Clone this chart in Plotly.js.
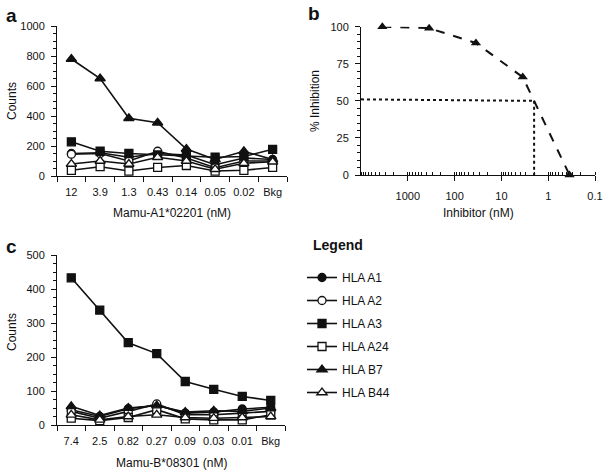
<!DOCTYPE html>
<html>
<head>
<meta charset="utf-8">
<script src="https://cdn.plot.ly/plotly-3.0.1.min.js"></script>
<style>
  html, body { margin: 0; padding: 0; background: #fff; }
  #chart { width: 605px; height: 472px; }
</style>
</head>
<body>
<div id="chart"></div>
<script>
// panel a / c categories (peptide concentration, nM)
const catsA = ["12", "3.9", "1.3", "0.43", "0.14", "0.05", "0.02", "Bkg"];
const catsC = ["7.4", "2.5", "0.82", "0.27", "0.09", "0.03", "0.01", "Bkg"];

const seriesNames = ["HLA A1", "HLA A2", "HLA A3", "HLA A24", "HLA B7", "HLA B44"];

// counts, panel a (Mamu-A1*02201)
const countsA_A1  = [150, 155, 125, 150, 140, 75, 120, 110];
const countsA_A2  = [145, 150, 100, 165, 120, 55, 100, 100];
const countsA_A3  = [228, 165, 150, 140, 130, 125, 130, 178];
const countsA_A24 = [38, 62, 33, 57, 70, 33, 38, 57];
const countsA_B7  = [780, 650, 385, 355, 180, 110, 165, 110];
const countsA_B44 = [80, 100, 80, 125, 100, 45, 85, 95];

// counts, panel c (Mamu-B*08301)
const countsC_A1  = [45, 25, 48, 58, 35, 38, 47, 52];
const countsC_A2  = [40, 20, 40, 62, 30, 30, 35, 40];
const countsC_A3  = [433, 338, 242, 210, 128, 105, 84, 72];
const countsC_A24 = [20, 13, 22, 45, 18, 15, 15, 30];
const countsC_B7  = [55, 28, 50, 57, 38, 42, 40, 50];
const countsC_B44 = [30, 15, 25, 30, 22, 20, 22, 25];

// panel b: inhibition curve
const inhibitorConc = [3500, 350, 35, 3.5, 0.35];
const inhibitionPct = [100, 99, 89, 66, 0];
const ic50 = 2.0;
const halfLineX = [10000, ic50];
const halfLineY = [51, 50];
const ic50LineY = [50, 0];

(function () {
  const W = 605, H = 472;
  const px = (x) => x / W;
  const py = (y) => 1 - y / H;
  const FONT = "Liberation Sans, Arial, Helvetica, sans-serif";
  const INK = "#111";

  const markers = {
    "HLA A1":  { symbol: "circle", color: INK, size: 8 },
    "HLA A2":  { symbol: "circle", color: "#fff", size: 8 },
    "HLA A3":  { symbol: "square", color: INK, size: 8 },
    "HLA A24": { symbol: "square", color: "#fff", size: 8 },
    "HLA B7":  { symbol: "triangle-up", color: INK, size: 9 },
    "HLA B44": { symbol: "triangle-up", color: "#fff", size: 9 }
  };

  const dataA = [countsA_A1, countsA_A2, countsA_A3, countsA_A24, countsA_B7, countsA_B44];
  const dataC = [countsC_A1, countsC_A2, countsC_A3, countsC_A24, countsC_B7, countsC_B44];

  const traces = [];
  function addPanel(cats, data, xa, ya, showLegend) {
    seriesNames.forEach((name, i) => {
      const m = markers[name];
      traces.push({
        x: cats, y: data[i], xaxis: xa, yaxis: ya,
        type: "scatter", mode: "lines+markers", name: name,
        legendgroup: name, showlegend: showLegend,
        line: { color: INK, width: 1.6 },
        marker: { symbol: m.symbol, size: m.size, color: m.color, line: { color: INK, width: 1.3 } },
        cliponaxis: false
      });
    });
  }
  addPanel(catsA, dataA, "x", "y", false);
  addPanel(catsC, dataC, "x3", "y3", true);

  traces.push({
    x: halfLineX, y: halfLineY, xaxis: "x2", yaxis: "y2", type: "scatter", mode: "lines",
    showlegend: false, line: { color: INK, width: 2, dash: "dot" }, hoverinfo: "skip"
  });
  traces.push({
    x: [ic50, ic50], y: ic50LineY, xaxis: "x2", yaxis: "y2", type: "scatter", mode: "lines",
    showlegend: false, line: { color: INK, width: 2, dash: "dot" }, hoverinfo: "skip"
  });
  traces.push({
    x: inhibitorConc, y: inhibitionPct, xaxis: "x2", yaxis: "y2", type: "scatter",
    mode: "lines+markers", showlegend: false, cliponaxis: false,
    line: { color: INK, width: 2, dash: "dash" },
    marker: { symbol: "triangle-up", size: 9, color: INK }
  });

  const tickFont = { family: FONT, size: 11, color: INK };
  const baseAxis = {
    showgrid: false, zeroline: false, showline: true, linecolor: INK, linewidth: 1,
    ticks: "outside", ticklen: 5, tickcolor: INK, tickfont: tickFont, fixedrange: true,
    ticklabeloverflow: "allow"
  };
  const yAxis = (extra) => Object.assign({}, baseAxis, { ticklabelstandoff: 4 }, extra);

  const catAxis = (domain, anchor) => Object.assign({}, baseAxis, {
    domain: domain, anchor: anchor, type: "category", tickson: "boundaries",
    range: [-0.5, 7.5], tickangle: 0, ticklabelstandoff: 6
  });

  const layout = {
    width: W, height: H,
    margin: { l: 0, r: 0, t: 0, b: 0 },
    paper_bgcolor: "#fff", plot_bgcolor: "#fff",
    font: { family: FONT, color: INK },
    xaxis: catAxis([px(57), px(287)], "y"),
    yaxis: yAxis({
      domain: [py(176), py(26)], anchor: "x", range: [0, 1000], dtick: 200,
      minor: { dtick: 50, ticks: "outside", ticklen: 3, tickcolor: INK }
    }),
    xaxis2: Object.assign({}, baseAxis, {
      domain: [px(361), px(595)], anchor: "y2", type: "log", range: [4, -1],
      tickvals: [1000, 100, 10, 1, 0.1], ticktext: ["1000", "100", "10", "1", "0.1"],
      tickangle: 0, ticklabelstandoff: 6,
      minor: { dtick: "D1", ticks: "inside", ticklen: 3, tickcolor: INK }
    }),
    yaxis2: yAxis({
      domain: [py(175), py(26.7)], anchor: "x2", range: [0, 100], dtick: 25,
      minor: { dtick: 5, ticks: "outside", ticklen: 3, tickcolor: INK }
    }),
    xaxis3: catAxis([px(57), px(285)], "y3"),
    yaxis3: yAxis({
      domain: [py(425), py(255)], anchor: "x3", range: [0, 500], dtick: 100,
      minor: { dtick: 25, ticks: "outside", ticklen: 3, tickcolor: INK }
    }),
    showlegend: true,
    legend: {
      x: px(302), y: py(263), xanchor: "left", yanchor: "top",
      font: { family: FONT, size: 12, color: INK },
      tracegroupgap: 4, itemclick: false, itemdoubleclick: false,
      bgcolor: "rgba(0,0,0,0)"
    },
    annotations: [
      { text: "<b>a</b>", x: px(4), y: py(3), xanchor: "left", yanchor: "top", font: { size: 19 } },
      { text: "<b>b</b>", x: px(306), y: py(1), xanchor: "left", yanchor: "top", font: { size: 19 } },
      { text: "<b>c</b>", x: px(4), y: py(234), xanchor: "left", yanchor: "top", font: { size: 19 } },
      { text: "<b>Legend</b>", x: px(311), y: py(245), xanchor: "left", yanchor: "middle", font: { size: 14 } },
      { text: "Counts", x: px(12), y: py(101), textangle: -90, font: { size: 12 } },
      { text: "Counts", x: px(12), y: py(332), textangle: -90, font: { size: 12 } },
      { text: "% Inhibition", x: px(315), y: py(101), textangle: -90, font: { size: 12 } },
      { text: "Mamu-A1*02201 (nM)", x: px(172), y: py(213), font: { size: 12 } },
      { text: "Inhibitor (nM)", x: px(478), y: py(213), font: { size: 12 } },
      { text: "Mamu-B*08301 (nM)", x: px(171), y: py(463), font: { size: 12 } }
    ].map((a) => Object.assign({ xref: "paper", yref: "paper", showarrow: false,
      xanchor: "center", yanchor: "middle" }, a,
      { font: Object.assign({ family: FONT, color: INK }, a.font) }))
  };

  Plotly.newPlot("chart", traces, layout, { displayModeBar: false, staticPlot: true });
})();
</script>
</body>
</html>
